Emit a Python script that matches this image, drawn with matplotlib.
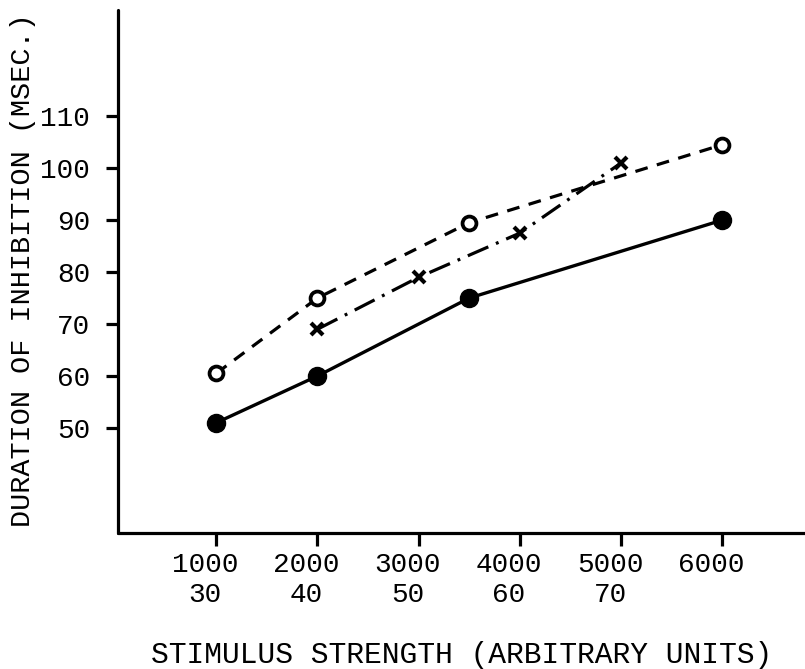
import matplotlib
matplotlib.use("Agg")
import matplotlib.pyplot as plt
import matplotlib.transforms as mtransforms

# data
x_filled = [1000, 2000, 3500, 6000]
y_filled = [51, 60, 75, 90]
x_open = [1000, 2000, 3500, 6000]
y_open = [60.5, 75, 89.5, 104.5]
x_cross = [2000, 3000, 4000, 5000]
y_cross = [69, 79, 87.5, 101]

xticks = [1000, 2000, 3000, 4000, 5000, 6000]
xtick_top = ["1000", "2000", "3000", "4000", "5000", "6000"]
xtick_bottom = ["30", "40", "50", "60", "70", ""]
yticks = [50, 60, 70, 80, 90, 100, 110]
ytick_labels = ["50", "60", "70", "80", "90", "100", "110"]

FONT = "Liberation Mono"

fig = plt.figure(figsize=(8.05, 6.69), dpi=100)
ax = fig.add_axes([118 / 805, (669 - 533) / 669, 687 / 805, (533 - 10) / 669])

ax.plot(x_filled, y_filled, color="black", lw=2.4, marker="o", ms=13,
        mfc="black", mec="black", solid_capstyle="round")
ax.plot(x_open, y_open, color="black", lw=2.3, linestyle=(0, (4, 3)),
        marker="o", ms=10, mfc="white", mec="black", mew=2.7)
ax.plot(x_cross, y_cross, color="black", lw=2.3,
        linestyle=(0, (7, 2.6, 0.9, 2.6)),
        marker="x", ms=8, mew=3, mec="black")

ax.set_xlim(30, 6815)
ax.set_ylim(29.8, 130.4)

for s in ["top", "right"]:
    ax.spines[s].set_visible(False)
for s in ["left", "bottom"]:
    ax.spines[s].set_linewidth(2.3)
    ax.spines[s].set_capstyle("round")

ax.set_xticks(xticks)
ax.set_xticklabels([f"{a}\n{b}" for a, b in zip(xtick_top, xtick_bottom)],
                   fontfamily=FONT, fontsize=20, linespacing=1.2)
ax.set_yticks(yticks)
ax.set_yticklabels(ytick_labels, fontfamily=FONT, fontsize=20)
ax.tick_params(axis="both", direction="out", length=9, width=2.3, color="black")
ax.tick_params(axis="x", pad=5)
ax.tick_params(axis="y", pad=11)

offset = mtransforms.ScaledTranslation(-0.11, 0, fig.dpi_scale_trans)
for lbl in ax.get_xticklabels():
    lbl.set_transform(lbl.get_transform() + offset)

fig.text(462 / 805, 1 - 655 / 669, "STIMULUS STRENGTH (ARBITRARY UNITS)",
         ha="center", va="center", fontfamily=FONT, fontsize=21.3)
fig.text(23 / 805, 1 - 270 / 669, "DURATION OF INHIBITION (MSEC.)",
         ha="center", va="center", rotation=90, fontfamily=FONT, fontsize=20.5)

fig.savefig("out.png", dpi=100)
